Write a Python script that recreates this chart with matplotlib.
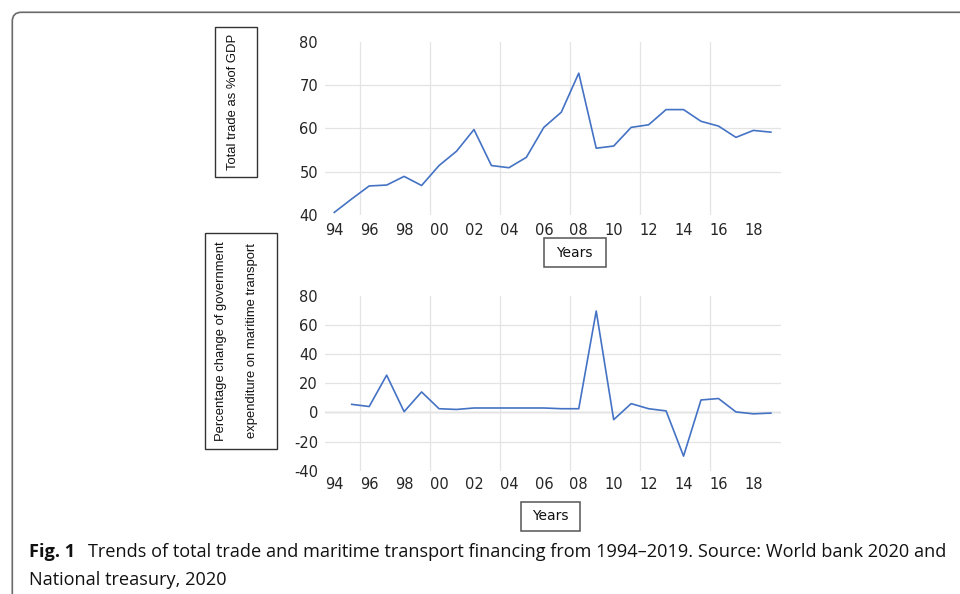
import matplotlib
matplotlib.use("Agg")
import matplotlib.pyplot as plt
from matplotlib.patches import Rectangle, FancyBboxPatch
from matplotlib import font_manager

plt.rcParams["axes.unicode_minus"] = False

# ---------------- data ----------------
years_trade = list(range(1994, 2020))
trade_pct_gdp = [40.6, 43.7, 46.7, 46.9, 48.9, 46.8, 51.4, 54.7, 59.7, 51.4,
                 50.9, 53.3, 60.2, 63.7, 72.7, 55.4, 55.9, 60.2, 60.8, 64.3,
                 64.3, 61.6, 60.5, 57.9, 59.5, 59.1]

years_gov = list(range(1995, 2020))
gov_change = [5.5, 4.0, 25.5, 0.5, 14.0, 2.5, 2.0, 3.0, 3.0, 3.0,
              3.0, 3.0, 2.5, 2.5, 69.5, -5.0, 6.0, 2.5, 1.0, -30.0,
              8.5, 9.5, 0.3, -1.0, -0.5]

tick_years = list(range(1994, 2019, 2))
tick_labels = ["94", "96", "98", "00", "02", "04", "06", "08", "10", "12", "14", "16", "18"]
grid_years = [1995.5, 1999.5, 2003.5, 2007.5, 2011.5, 2015.5]
top_yticks = [40, 50, 60, 70, 80]
bot_yticks = [-40, -20, 0, 20, 40, 60, 80]

top_ylabel = "Total trade as %of GDP"
bot_ylabel_lines = ["Percentage change of government", "expenditure on maritime transport"]
xlabel = "Years"
caption_bold = "Fig. 1"
caption_line1 = "Trends of total trade and maritime transport financing from 1994\u20132019. Source: World bank 2020 and"
caption_line2 = "National treasury, 2020"

# ---------------- layout ----------------
W, H = 960, 594
fig = plt.figure(figsize=(9.6, 5.94), dpi=100)

avail = {f.name for f in font_manager.fontManager.ttflist}
narrow = "Liberation Sans Narrow" if "Liberation Sans Narrow" in avail else "Liberation Sans"
cap_font = "Open Sans" if "Open Sans" in avail else "DejaVu Sans"

bg = fig.add_axes([0, 0, 1, 1])
bg.set_xlim(0, W)
bg.set_ylim(H, 0)
bg.axis("off")

LINE = "#4472C4"
GRID = "#e4e4e4"
TXT = "#262626"


def make_axes(top_px, bottom_px):
    return fig.add_axes([325 / W, 1 - bottom_px / H, (781 - 325) / W, (bottom_px - top_px) / H])


def style(ax, yticks, xpad):
    ax.set_xlim(1993.47, 2019.58)
    ax.set_ylim(yticks[0], yticks[-1])
    ax.set_xticks(tick_years, tick_labels)
    ax.set_xticks(grid_years, minor=True)
    ax.set_yticks(yticks)
    for s in ax.spines.values():
        s.set_visible(False)
    ax.tick_params(axis="both", which="both", length=0, labelsize=10.5, colors=TXT)
    ax.tick_params(axis="y", pad=5)
    ax.tick_params(axis="x", pad=xpad)
    ax.grid(which="minor", axis="x", color=GRID, lw=0.9)
    ax.grid(which="major", axis="y", color=GRID, lw=0.9)
    ax.grid(which="major", axis="x", visible=False)
    gl = ax.get_ygridlines()
    gl[0].set_visible(False)
    gl[-1].set_visible(False)
    ax.set_facecolor("none")


ax1 = make_axes(41.5, 215)
style(ax1, top_yticks, 6.0)
ax1.plot(years_trade, trade_pct_gdp, color=LINE, lw=1.2)

ax2 = make_axes(295.7, 470.7)
style(ax2, bot_yticks, 4.5)
ax2.axhline(0, color="#c4c4c4", lw=1.0, zorder=1)
ax2.plot(years_gov, gov_change, color=LINE, lw=1.2, zorder=3)

# ---------------- frame ----------------
frame = FancyBboxPatch((12.3, 12.3), 1100, 800, boxstyle="round,pad=0,rounding_size=9",
                       ec="#6a6a6a", fc="none", lw=1.2)
bg.add_patch(frame)

# ---------------- y label boxes ----------------
bg.add_patch(Rectangle((215, 27.3), 41.7, 149.4, fill=False, ec="#333333", lw=1.0))
bg.text(233, 102, top_ylabel, rotation=90, ha="center", va="center",
        fontsize=9.4, family=[narrow, "DejaVu Sans"], color="#111111")

bg.add_patch(Rectangle((205, 233.3), 71.7, 215.7, fill=False, ec="#333333", lw=1.0))
bg.text(221, 341, bot_ylabel_lines[0], rotation=90, ha="center", va="center",
        fontsize=9.4, family=[narrow, "DejaVu Sans"], color="#111111")
bg.text(252, 341, bot_ylabel_lines[1], rotation=90, ha="center", va="center",
        fontsize=9.4, family=[narrow, "DejaVu Sans"], color="#111111")

# ---------------- Years boxes ----------------
bg.add_patch(Rectangle((544, 238.3), 61.7, 29, fill=False, ec="#555555", lw=1.1))
bg.text(574.8, 253, xlabel, ha="center", va="center", fontsize=10, color="#111111")
bg.add_patch(Rectangle((521, 501.7), 59, 29.3, fill=False, ec="#555555", lw=1.1))
bg.text(550.5, 516.5, xlabel, ha="center", va="center", fontsize=10, color="#111111")

# ---------------- caption ----------------
CAP = 13.1
tb = bg.text(29.3, 556.7, caption_bold, fontweight="bold", family=cap_font,
             fontsize=CAP, va="baseline", ha="left", color="#111111")
fig.canvas.draw()
bb = tb.get_window_extent(renderer=fig.canvas.get_renderer())
x_end = bb.x1
bg.text(x_end + 13, 556.7, caption_line1, family=cap_font, fontsize=CAP,
        va="baseline", ha="left", color="#111111")
bg.text(29.3, 585, caption_line2, family=cap_font, fontsize=CAP,
        va="baseline", ha="left", color="#111111")

fig.savefig("out.png", dpi=100)
